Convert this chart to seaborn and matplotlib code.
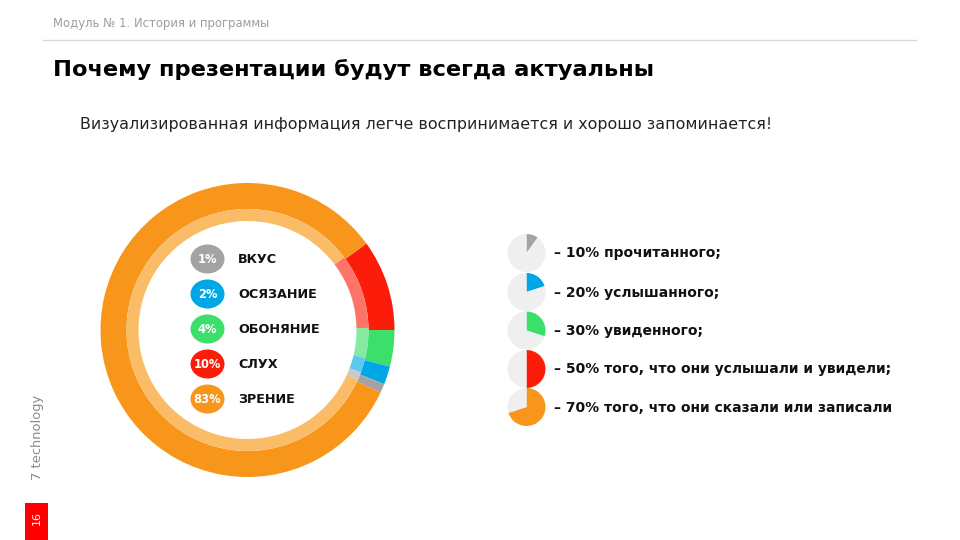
import matplotlib
matplotlib.use("Agg")
import matplotlib.pyplot as plt
from matplotlib.patches import Ellipse, Rectangle
import seaborn as sns

# ---------------- data ----------------
header = "Модуль № 1. История и программы"
title = "Почему презентации будут всегда актуальны"
subtitle = "Визуализированная информация легче воспринимается и хорошо запоминается!"
side_text = "7 technology"
page_no = "16"

senses = ["ВКУС", "ОСЯЗАНИЕ", "ОБОНЯНИЕ", "СЛУХ", "ЗРЕНИЕ"]
sense_pct = [1, 2, 4, 10, 83]
sense_colors = ["#A3A3A3", "#00A7E6", "#3DDF6B", "#FB1C0A", "#F7961A"]
sense_light = ["#C9C9C9", "#5CC7F0", "#86EBA1", "#FF7468", "#FBBC68"]
ring_order = [3, 2, 1, 0, 4]  # clockwise order on the ring

memory_pct = [10, 20, 30, 50, 70]
memory_text = ["– 10% прочитанного;",
               "– 20% услышанного;",
               "– 30% увиденного;",
               "– 50% того, что они услышали и увидели;",
               "– 70% того, что они сказали или записали"]
memory_colors = ["#A3A3A3", "#00A7E6", "#3DDF6B", "#FB1C0A", "#F7961A"]

# ---------------- figure ----------------
sns.set_theme(style="white")
plt.rcParams["font.family"] = ["DejaVu Sans"]
W, H = 960, 540
fig = plt.figure(figsize=(9.6, 5.4), dpi=100)
fig.patch.set_facecolor("white")

bg = fig.add_axes([0, 0, 1, 1])
bg.set_xlim(0, W)
bg.set_ylim(H, 0)
bg.axis("off")

bg.text(53, 24, header, fontsize=8.4, color="#9E9E9E", va="center", ha="left")
bg.plot([43, 916], [40, 40], color="#D9D9D9", lw=1)
bg.text(53, 70, title, fontsize=16.2, fontweight="bold", color="black", va="center", ha="left")
bg.text(80, 125, subtitle, fontsize=11.4, color="#222222", va="center", ha="left")
bg.text(37, 437, side_text, fontsize=9.4, color="#8A8A8A", rotation=90, va="center", ha="center")
bg.add_patch(Rectangle((25, 503), 23, 37, color="#FF0000", lw=0))
bg.text(36.5, 518, page_no, fontsize=8, color="white", rotation=90, va="center", ha="center")


def pie_axes(cx, cy, half):
    ax = fig.add_axes([(cx - half) / W, (H - cy - half) / H, 2 * half / W, 2 * half / H])
    return ax


# donut
cx, cy = 247.5, 330
dax = pie_axes(cx, cy, 150)
vals = [sense_pct[i] for i in ring_order]
dax.pie(vals, colors=[sense_colors[i] for i in ring_order], startangle=36,
        counterclock=False, radius=147, wedgeprops=dict(width=26, linewidth=0))
dax.pie(vals, colors=[sense_light[i] for i in ring_order], startangle=37,
        counterclock=False, radius=121, wedgeprops=dict(width=12, linewidth=0))
dax.set_xlim(-150, 150)
dax.set_ylim(-150, 150)
dax.set_aspect("equal")
dax.axis("off")

# inner legend
leg_y = [259, 294, 329, 364, 399]
for i, y in enumerate(leg_y):
    bg.add_patch(Ellipse((207.5, y), 34, 29, color=sense_colors[i], lw=0, zorder=5))
    bg.text(207.5, y + 0.5, f"{sense_pct[i]}%", fontsize=8.3, fontweight="bold", color="white",
            va="center", ha="center", zorder=6)
    bg.text(238, y + 0.5, senses[i], fontsize=9.2, fontweight="bold", color="#111111",
            va="center", ha="left", zorder=6)
bg.set_zorder(3)
bg.patch.set_alpha(0)

# small pies
pie_y = [253, 292, 330.5, 369, 407]
for i, y in enumerate(pie_y):
    pax = pie_axes(526.5, y, 20)
    pax.pie([memory_pct[i], 100 - memory_pct[i]], colors=[memory_colors[i], "#EFEFEF"],
            startangle=90, counterclock=False, radius=19, wedgeprops=dict(linewidth=0))
    pax.set_xlim(-20, 20)
    pax.set_ylim(-20, 20)
    pax.set_aspect("equal")
    pax.axis("off")
    bg.text(554, y + 0.5, memory_text[i], fontsize=10, fontweight="bold", color="#111111",
            va="center", ha="left")

fig.savefig("out.png", dpi=100, facecolor="white")
